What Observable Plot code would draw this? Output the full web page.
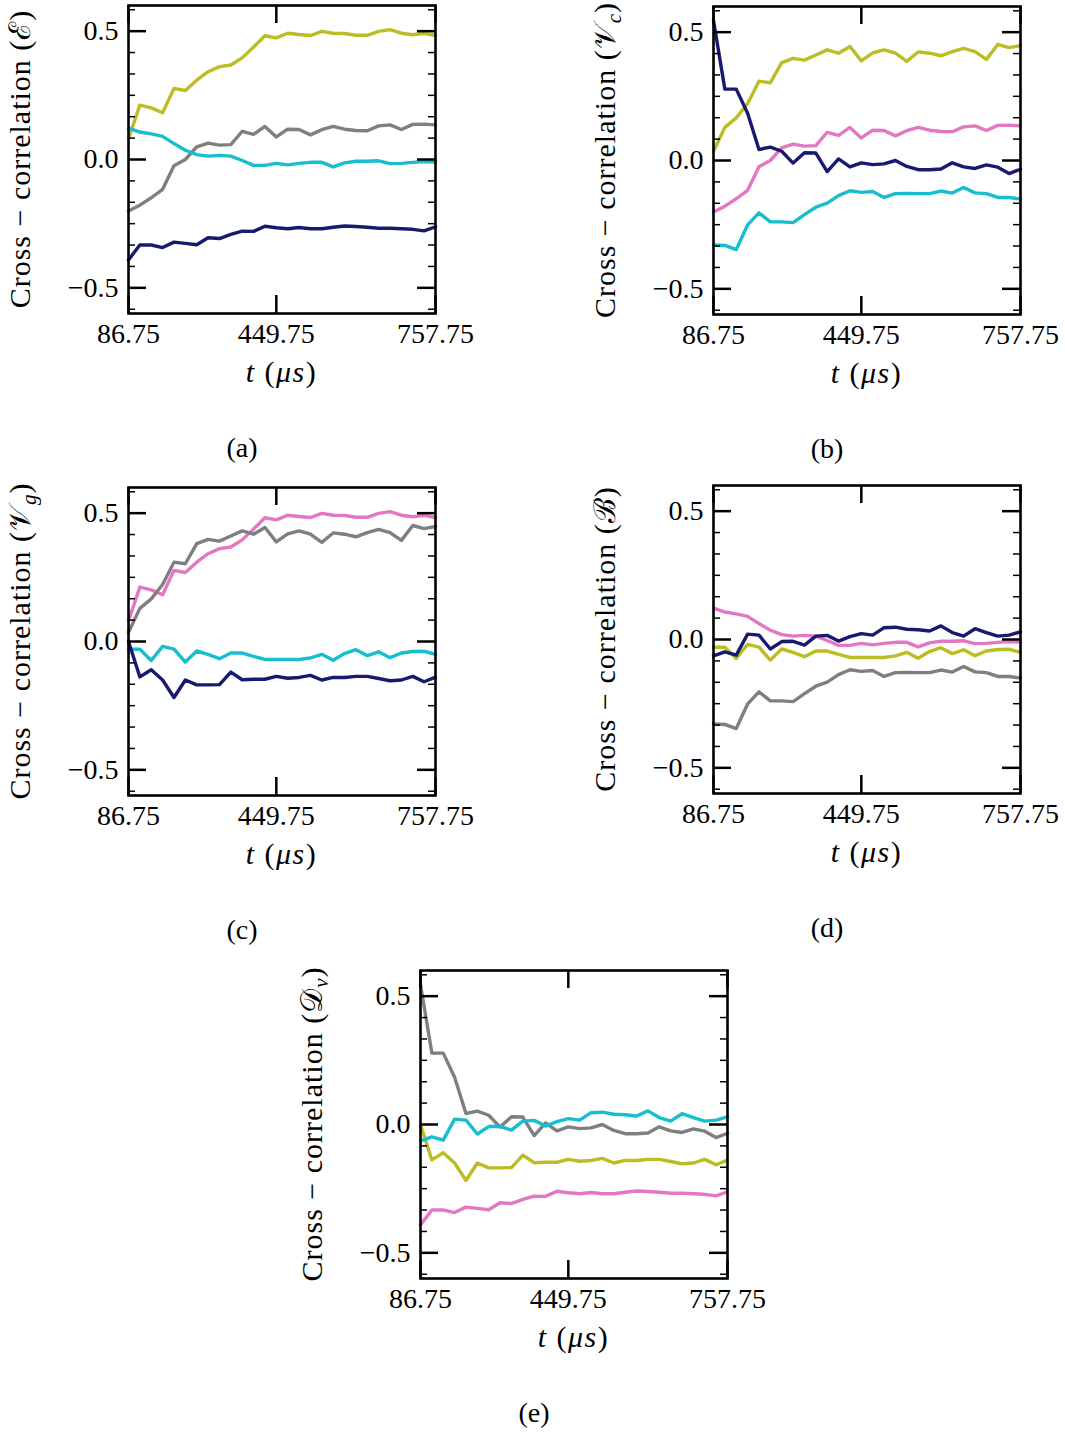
<!DOCTYPE html>
<html><head><meta charset="utf-8">
<script src="https://cdn.jsdelivr.net/npm/d3@7"></script>
<script src="https://cdn.jsdelivr.net/npm/@observablehq/plot@0.6"></script>
<style>
html,body{margin:0;padding:0;background:#fff;}
#root{position:relative;width:1065px;height:1432px;overflow:hidden;font-family:"Liberation Serif",serif;}
#root svg{position:absolute;}
</style></head><body><div id="root"></div>
<script>
// time-step index (categorical x positions)
const steps = [0,1,2,3,4,5,6,7,8,9,10,11,12,13,14,15,16,17,18,19,20,21,22,23,24,25,26,27];
const xTickIndex = [0, 13, 27];
const xTickLabels = ["86.75", "449.75", "757.75"];
const yMajor = [-0.5, 0, 0.5];

// variables and their line colours
const variables = ["E", "Vc", "Vg", "B", "Dv"];
const varColors = ["#e377c2", "#7f7f7f", "#bcbd22", "#17becf", "#191970"];
const scriptLetters = ["ℰ", "𝒱", "𝒱", "ℬ", "𝒟"];
const subscripts = ["", "c", "g", "", "v"];
const panelTags = ["(a)", "(b)", "(c)", "(d)", "(e)"];

// pairwise cross-correlation series (28 steps each)
const E_Vc = [-0.201,-0.178,-0.149,-0.116,-0.024,0.0,0.049,0.064,0.056,0.058,0.110,0.098,0.129,0.088,0.118,0.117,0.096,0.116,0.129,0.118,0.113,0.112,0.131,0.135,0.117,0.137,0.138,0.135];
const E_Vg = [0.08,0.212,0.201,0.182,0.277,0.269,0.309,0.342,0.362,0.368,0.396,0.438,0.482,0.474,0.492,0.487,0.483,0.499,0.492,0.491,0.484,0.484,0.499,0.506,0.492,0.486,0.492,0.483];
const E_B  = [0.122,0.107,0.100,0.090,0.062,0.036,0.019,0.013,0.016,0.013,-0.004,-0.023,-0.023,-0.015,-0.021,-0.015,-0.011,-0.011,-0.029,-0.013,-0.007,-0.007,-0.005,-0.016,-0.015,-0.011,-0.008,-0.010];
const E_Dv = [-0.391,-0.333,-0.333,-0.343,-0.322,-0.327,-0.332,-0.305,-0.308,-0.292,-0.279,-0.280,-0.260,-0.266,-0.270,-0.265,-0.270,-0.270,-0.264,-0.259,-0.261,-0.264,-0.268,-0.268,-0.270,-0.272,-0.278,-0.262];
const Vc_Vg = [0.036,0.129,0.166,0.222,0.309,0.303,0.381,0.398,0.391,0.411,0.431,0.418,0.444,0.388,0.419,0.431,0.418,0.386,0.423,0.418,0.408,0.424,0.437,0.424,0.394,0.452,0.440,0.448];
const Vc_B = [-0.329,-0.331,-0.347,-0.251,-0.204,-0.239,-0.239,-0.242,-0.211,-0.182,-0.166,-0.137,-0.118,-0.124,-0.121,-0.144,-0.129,-0.128,-0.129,-0.129,-0.119,-0.127,-0.105,-0.126,-0.129,-0.144,-0.144,-0.150];
const Vc_Dv = [0.545,0.278,0.278,0.184,0.043,0.052,0.036,-0.010,0.030,0.029,-0.043,0.006,-0.025,-0.009,-0.016,-0.013,0.0,-0.023,-0.036,-0.036,-0.033,-0.009,-0.025,-0.031,-0.017,-0.026,-0.051,-0.034];
const Vg_B = [-0.030,-0.030,-0.074,-0.019,-0.030,-0.080,-0.037,-0.050,-0.067,-0.045,-0.045,-0.058,-0.070,-0.070,-0.070,-0.070,-0.064,-0.050,-0.073,-0.047,-0.032,-0.055,-0.040,-0.063,-0.045,-0.039,-0.038,-0.050];
const Vg_Dv = [0.0,-0.138,-0.110,-0.150,-0.218,-0.150,-0.169,-0.169,-0.168,-0.119,-0.149,-0.147,-0.147,-0.136,-0.143,-0.140,-0.132,-0.150,-0.140,-0.140,-0.136,-0.136,-0.144,-0.153,-0.150,-0.136,-0.157,-0.139];
const B_Dv = [-0.064,-0.048,-0.061,0.021,0.017,-0.037,-0.008,-0.007,-0.022,0.013,0.016,-0.006,0.011,0.023,0.017,0.046,0.048,0.040,0.038,0.033,0.053,0.027,0.013,0.042,0.027,0.013,0.017,0.030];

const pairSeries = {
  "E|Vc": E_Vc, "E|Vg": E_Vg, "E|B": E_B, "E|Dv": E_Dv,
  "Vc|Vg": Vc_Vg, "Vc|B": Vc_B, "Vc|Dv": Vc_Dv,
  "Vg|B": Vg_B, "Vg|Dv": Vg_Dv, "B|Dv": B_Dv
};
function pair(a, b) { return pairSeries[a + "|" + b] || pairSeries[b + "|" + a]; }

// layout (svg top-left corner of each panel)
const panelOrigin = [[0, 0], [585, 1], [0, 482], [585, 480], [292, 965]];
const W = 480, H = 470, ML = 128, MR = 45, MT = 5, MB = 157;
const PW = W - ML - MR, PH = H - MT - MB;
const FONT = "Liberation Serif, serif";
const fmt = d3.format(".1f");
const yMinor = [-7,-5,-4,-3,-2,-1,1,2,3,4,5,7].map(k => k / 12);

const root = document.getElementById("root");

variables.forEach((v, p) => {
  const others = variables.map((o, j) => ({o, j})).filter(d => d.o !== v);
  const lineMarks = others.map(({o, j}) => {
    const vals = pair(v, o);
    const rows = steps.map((s, k) => ({i: s, y: vals[k]}));
    return Plot.line(rows, {x: "i", y: "y", stroke: varColors[j], strokeWidth: 3.4, strokeLinejoin: "round"});
  });
  const majLen = 18, minLen = 7;
  const svg = Plot.plot({
    width: W, height: H,
    marginLeft: ML, marginRight: MR, marginTop: MT, marginBottom: MB,
    x: {domain: [0, 27], axis: null},
    y: {domain: [-0.6, 0.6], axis: null},
    style: {fontFamily: FONT, background: "transparent", overflow: "visible"},
    marks: [
      ...lineMarks,
      Plot.tickY(yMajor, {y: d => d, insetRight: PW - majLen, stroke: "black", strokeWidth: 2.5}),
      Plot.tickY(yMajor, {y: d => d, insetLeft: PW - majLen, stroke: "black", strokeWidth: 2.5}),
      Plot.tickY(yMinor, {y: d => d, insetRight: PW - minLen, stroke: "black", strokeWidth: 1.5}),
      Plot.tickY(yMinor, {y: d => d, insetLeft: PW - minLen, stroke: "black", strokeWidth: 1.5}),
      Plot.tickX(xTickIndex, {x: d => d, insetBottom: PH - majLen, stroke: "black", strokeWidth: 2.5}),
      Plot.tickX(xTickIndex, {x: d => d, insetTop: PH - majLen, stroke: "black", strokeWidth: 2.5}),
      Plot.frame({stroke: "black", strokeWidth: 2.6}),
      Plot.text(yMajor, {y: d => d, frameAnchor: "left", dx: -10, textAnchor: "end", text: d => fmt(d), fontSize: 28, fontFamily: FONT, fill: "black"}),
      Plot.text(xTickIndex, {x: d => d, frameAnchor: "bottom", lineAnchor: "bottom", dy: 29, text: (d, i) => xTickLabels[i], fontSize: 28, fontFamily: FONT, fill: "black"})
    ]
  });
  svg.style.left = panelOrigin[p][0] + "px";
  svg.style.top = panelOrigin[p][1] + "px";
  root.appendChild(svg);

  const s = d3.select(svg);
  // y label
  const yl = s.append("text")
    .attr("transform", `translate(${ML - 98},${MT + PH / 2}) rotate(-90)`)
    .attr("text-anchor", "middle")
    .attr("font-family", FONT).attr("font-size", 30).attr("letter-spacing", 1).attr("fill", "black");
  yl.append("tspan").text("Cross − correlation (");
  yl.append("tspan").text(scriptLetters[p]);
  if (subscripts[p]) {
    yl.append("tspan").attr("font-style", "italic").attr("font-size", 21).attr("dy", 6).text(subscripts[p]);
    yl.append("tspan").attr("dy", -6).text(")");
  } else {
    yl.append("tspan").text(")");
  }
  // x label
  const xl = s.append("text")
    .attr("x", ML + PW / 2).attr("y", MT + PH + 69)
    .attr("text-anchor", "middle")
    .attr("font-family", FONT).attr("font-size", 30).attr("letter-spacing", 1.5).attr("fill", "black");
  xl.append("tspan").attr("font-style", "italic").text("t");
  xl.append("tspan").text(" (");
  xl.append("tspan").attr("font-style", "italic").text("μs");
  xl.append("tspan").text(")");
  // panel tag
  s.append("text")
    .attr("x", ML + 114).attr("y", MT + 452)
    .attr("text-anchor", "middle")
    .attr("font-family", FONT).attr("font-size", 28).attr("fill", "black")
    .text(panelTags[p]);
});
</script>
</body></html>
